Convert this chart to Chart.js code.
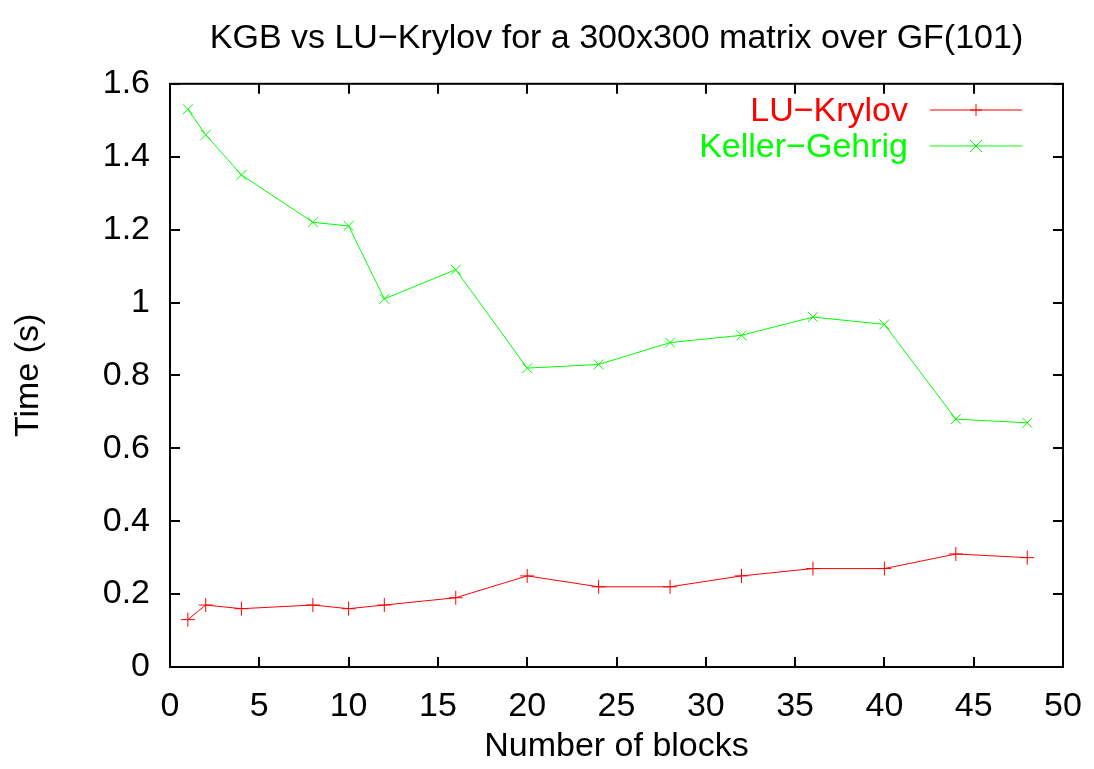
<!DOCTYPE html>
<html>
<head>
<meta charset="utf-8">
<script src="https://cdn.jsdelivr.net/npm/chart.js@4/dist/chart.umd.min.js"></script>
<style>
  html, body { margin: 0; padding: 0; background: #fff; }
  #wrap { width: 1094px; height: 769px; }
</style>
</head>
<body>
<div id="wrap"><canvas id="myChart" width="1094" height="769"></canvas></div>
<script>
// values
const blocks = [1, 2, 4, 8, 10, 12, 16, 20, 24, 28, 32, 36, 40, 44, 48];
const luKrylov = [0.13, 0.17, 0.16, 0.17, 0.16, 0.17, 0.19, 0.25, 0.22, 0.22, 0.25, 0.27, 0.27, 0.31, 0.30];
const kellerGehrig = [1.53, 1.46, 1.35, 1.22, 1.21, 1.01, 1.09, 0.82, 0.83, 0.89, 0.91, 0.96, 0.94, 0.68, 0.67];
const seriesNames = ['LU\u2212Krylov', 'Keller\u2212Gehrig'];
const seriesColors = ['#ff0000', '#00ff00'];

const FONT = 'Liberation Sans, Arial, sans-serif';
const FS = 34;

// gnuplot-like frame with inward ticks on all sides
const framePlugin = {
  id: 'frame',
  afterDraw(chart) {
    const ctx = chart.ctx;
    const a = chart.chartArea;
    const xs = chart.scales.x, ys = chart.scales.y;
    ctx.save();
    ctx.strokeStyle = '#000';
    ctx.lineWidth = 2;
    ctx.beginPath();
    for (const t of xs.ticks) {
      const px = Math.round(xs.getPixelForValue(t.value));
      ctx.moveTo(px, a.bottom); ctx.lineTo(px, a.bottom - 10);
      ctx.moveTo(px, a.top); ctx.lineTo(px, a.top + 10);
    }
    for (const t of ys.ticks) {
      const py = Math.round(ys.getPixelForValue(t.value));
      ctx.moveTo(a.left, py); ctx.lineTo(a.left + 10, py);
      ctx.moveTo(a.right, py); ctx.lineTo(a.right - 10, py);
    }
    ctx.stroke();
    ctx.strokeRect(a.left, a.top, a.right - a.left, a.bottom - a.top);
    ctx.restore();
  }
};

// legend inside top right: text right aligned, then sample line with marker
const legendPlugin = {
  id: 'gpLegend',
  afterDraw(chart) {
    const ctx = chart.ctx;
    ctx.save();
    ctx.font = FS + 'px ' + FONT;
    ctx.textAlign = 'right';
    ctx.textBaseline = 'middle';
    chart.data.datasets.forEach((ds, i) => {
      const y = 110 + i * 36;
      ctx.fillStyle = ds.borderColor;
      ctx.fillText(ds.label, 908, y + 2);
      ctx.strokeStyle = ds.borderColor;
      ctx.lineWidth = 1;
      ctx.beginPath();
      ctx.moveTo(930, y); ctx.lineTo(1022, y);
      const cx = 976, r = 6;
      if (ds.pointStyle === 'cross') {
        ctx.moveTo(cx - r, y); ctx.lineTo(cx + r, y);
        ctx.moveTo(cx, y - r); ctx.lineTo(cx, y + r);
      } else {
        ctx.moveTo(cx - r, y - r); ctx.lineTo(cx + r, y + r);
        ctx.moveTo(cx - r, y + r); ctx.lineTo(cx + r, y - r);
      }
      ctx.stroke();
    });
    ctx.restore();
  }
};

const ctx = document.getElementById('myChart').getContext('2d');

const myChart = new Chart(ctx, {
  type: 'line',
  data: {
    datasets: [
      {
        label: seriesNames[0],
        data: blocks.map((b, i) => ({ x: b, y: luKrylov[i] })),
        borderColor: seriesColors[0],
        backgroundColor: seriesColors[0],
        borderWidth: 1,
        pointStyle: 'cross',
        pointRadius: 7,
        pointBorderWidth: 1,
        tension: 0
      },
      {
        label: seriesNames[1],
        data: blocks.map((b, i) => ({ x: b, y: kellerGehrig[i] })),
        borderColor: seriesColors[1],
        backgroundColor: seriesColors[1],
        borderWidth: 1,
        pointStyle: 'crossRot',
        pointRadius: 7,
        pointBorderWidth: 1,
        tension: 0
      }
    ]
  },
  options: {
    responsive: false,
    animation: false,
    layout: { padding: { left: 0, right: 31, top: 0, bottom: 0 } },
    plugins: {
      legend: { display: false },
      tooltip: { enabled: false },
      title: {
        display: true,
        fullSize: false,
        text: 'KGB vs LU\u2212Krylov for a 300x300 matrix over GF(101)',
        color: '#000',
        font: { family: FONT, size: FS, weight: 'normal' },
        padding: { top: 18, bottom: 25 }
      }
    },
    scales: {
      x: {
        type: 'linear',
        min: 0, max: 50,
        grid: { display: false, drawTicks: false },
        border: { display: false },
        ticks: { stepSize: 5, color: '#000', padding: 19, font: { family: FONT, size: FS } },
        title: {
          display: true, text: 'Number of blocks', color: '#000',
          font: { family: FONT, size: FS }, padding: { top: 0, bottom: 2 }
        },
        afterFit(scale) {
          scale.height = 102;
          scale.paddingLeft = 0;
          scale.paddingRight = 0;
        }
      },
      y: {
        type: 'linear',
        min: 0, max: 1.6,
        grid: { display: false, drawTicks: false },
        border: { display: false },
        ticks: {
          stepSize: 0.2, color: '#000', padding: 20,
          font: { family: FONT, size: FS },
          callback: v => String(Math.round(v * 10) / 10)
        },
        title: {
          display: true, text: 'Time (s)', color: '#000',
          font: { family: FONT, size: FS }, padding: { top: 8, bottom: 0 }
        },
        afterFit(scale) {
          scale.width = 170;
          scale.paddingTop = 0;
          scale.paddingBottom = 0;
        }
      }
    }
  },
  plugins: [framePlugin, legendPlugin]
});
</script>
</body>
</html>
